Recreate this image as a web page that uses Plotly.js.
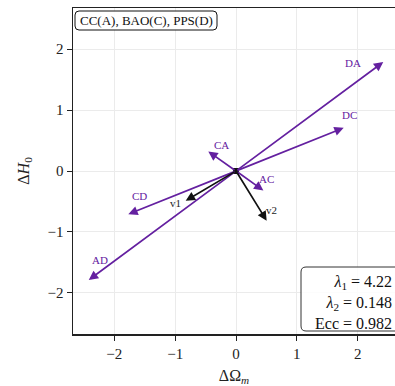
<!DOCTYPE html>
<html>
<head>
<meta charset="utf-8">
<script src="https://cdn.plot.ly/plotly-3.0.1.min.js"></script>
<style>html,body{margin:0;padding:0;overflow:hidden;background:#fff}</style>
</head>
<body>
<div id="chart" style="width:395px;height:386px"></div>
<script>
// Pairwise shift vectors (tip coordinates, tail at origin)
const arrowNames = ['DA', 'DC', 'CA', 'AC', 'CD', 'AD'];
const arrowX = [2.42, 1.77, -0.455, 0.45, -1.77, -2.42];
const arrowY = [1.79, 0.71, 0.32, -0.32, -0.71, -1.79];
const labelX = [1.925, 1.857, -0.235, 0.505, -1.578, -2.23];
const labelY = [1.773, 0.92, 0.427, -0.131, -0.411, -1.461];
// Eigenvectors
const eigNames = ['v1', 'v2'];
const eigX = [-0.827, 0.504];
const eigY = [-0.487, -0.816];
const eigLabelX = [-1.002, 0.587];
const eigLabelY = [-0.525, -0.641];
// Stats
const statNames = ['<i>λ</i><sub>1</sub>', '<i>λ</i><sub>2</sub>', 'Ecc'];
const statValues = ['4.22', '0.148', '0.982'];
const legendText = 'CC(A), BAO(C), PPS(D)';
const xTicks = [-2, -1, 0, 1, 2];
const yTicks = [-2, -1, 0, 1, 2];

const W = 395, H = 386;
const M = {l: 73, r: 0, t: 8, b: 52};
const PW = W - M.l - M.r, PH = H - M.t - M.b;
const purple = '#6420a0';
const font = 'Liberation Serif, Times New Roman, serif';

function px2paperX(px) { return (px - M.l) / PW; }
function px2paperY(py) { return (H - M.b - py) / PH; }
function roundedBox(x0, y0, x1, y1, r) {
  const X = px2paperX, Y = px2paperY;
  return 'M' + X(x0 + r) + ',' + Y(y0) +
    ' L' + X(x1 - r) + ',' + Y(y0) +
    ' Q' + X(x1) + ',' + Y(y0) + ' ' + X(x1) + ',' + Y(y0 + r) +
    ' L' + X(x1) + ',' + Y(y1 - r) +
    ' Q' + X(x1) + ',' + Y(y1) + ' ' + X(x1 - r) + ',' + Y(y1) +
    ' L' + X(x0 + r) + ',' + Y(y1) +
    ' Q' + X(x0) + ',' + Y(y1) + ' ' + X(x0) + ',' + Y(y1 - r) +
    ' L' + X(x0) + ',' + Y(y0 + r) +
    ' Q' + X(x0) + ',' + Y(y0) + ' ' + X(x0 + r) + ',' + Y(y0) + ' Z';
}

const annotations = [];
arrowNames.forEach((n, i) => {
  annotations.push({
    x: arrowX[i], y: arrowY[i], ax: 0, ay: 0, xref: 'x', yref: 'y', axref: 'x', ayref: 'y',
    text: '', showarrow: true, arrowhead: 2, arrowsize: 1.1, arrowwidth: 1.7, arrowcolor: purple, standoff: 0
  });
  annotations.push({
    x: labelX[i], y: labelY[i], xref: 'x', yref: 'y', text: n, showarrow: false,
    font: {family: font, size: 11, color: purple}
  });
});
eigNames.forEach((n, i) => {
  annotations.push({
    x: eigX[i], y: eigY[i], ax: 0, ay: 0, xref: 'x', yref: 'y', axref: 'x', ayref: 'y',
    text: '', showarrow: true, arrowhead: 2, arrowsize: 1.1, arrowwidth: 1.7, arrowcolor: '#111', standoff: 0
  });
  annotations.push({
    x: eigLabelX[i], y: eigLabelY[i], xref: 'x', yref: 'y', text: n, showarrow: false,
    font: {family: font, size: 11, color: '#222'}
  });
});
annotations.push({
  x: px2paperX(146), y: px2paperY(20.5), xref: 'paper', yref: 'paper', text: legendText,
  showarrow: false, xanchor: 'center', yanchor: 'middle', font: {family: font, size: 13, color: '#111'}
});
annotations.push({
  x: px2paperX(393.5), y: px2paperY(302), xref: 'paper', yref: 'paper',
  text: statNames.map((s, i) => s + ' = ' + statValues[i]).join('<br>'),
  showarrow: false, xanchor: 'right', yanchor: 'middle', align: 'right',
  font: {family: font, size: 16, color: '#111'}
});

const shapes = [
  {type: 'path', xref: 'paper', yref: 'paper', path: roundedBox(75, 11, 217, 30, 4),
   line: {color: '#111', width: 1}, fillcolor: 'rgba(255,255,255,0.9)', layer: 'above'},
  {type: 'path', xref: 'paper', yref: 'paper', path: roundedBox(301, 267, 400, 331, 5),
   line: {color: '#333', width: 1}, fillcolor: 'rgba(255,255,255,0.85)', layer: 'above'}
];

const traces = [{
  x: [0], y: [0], mode: 'markers', type: 'scatter',
  marker: {color: '#111', size: 6, symbol: 'square'}, hoverinfo: 'skip', showlegend: false
}];

const layout = {
  width: W, height: H, margin: M,
  paper_bgcolor: '#fff', plot_bgcolor: '#fff',
  showlegend: false,
  font: {family: font, size: 14, color: '#222'},
  xaxis: {
    range: [-2.679, 2.613], tickvals: xTicks, ticktext: xTicks.map(v => v < 0 ? '−' + Math.abs(v) : String(v)),
    showgrid: true, gridcolor: '#ebebeb', gridwidth: 1, zeroline: false,
    showline: true, linecolor: '#222', linewidth: 1.5, mirror: true,
    ticks: 'outside', ticklen: 5, tickwidth: 1, tickcolor: '#222',
    tickfont: {family: font, size: 15, color: '#222'},
    title: {text: 'ΔΩ<sub><i>m</i></sub>', font: {family: font, size: 16, color: '#222'}, standoff: 10}
  },
  yaxis: {
    range: [-2.677, 2.677], tickvals: yTicks, ticktext: yTicks.map(v => v < 0 ? '−' + Math.abs(v) : String(v)),
    showgrid: true, gridcolor: '#ebebeb', gridwidth: 1, zeroline: false,
    showline: true, linecolor: '#222', linewidth: 1.5, mirror: false,
    ticks: 'outside', ticklen: 5, tickwidth: 1, tickcolor: '#222',
    tickfont: {family: font, size: 15, color: '#222'},
    title: {text: 'Δ<i>H</i><sub>0</sub>', font: {family: font, size: 16, color: '#222'}, standoff: 14}
  },
  annotations: annotations,
  shapes: shapes
};

Plotly.newPlot('chart', traces, layout, {displayModeBar: false, staticPlot: true});
</script>
</body>
</html>
